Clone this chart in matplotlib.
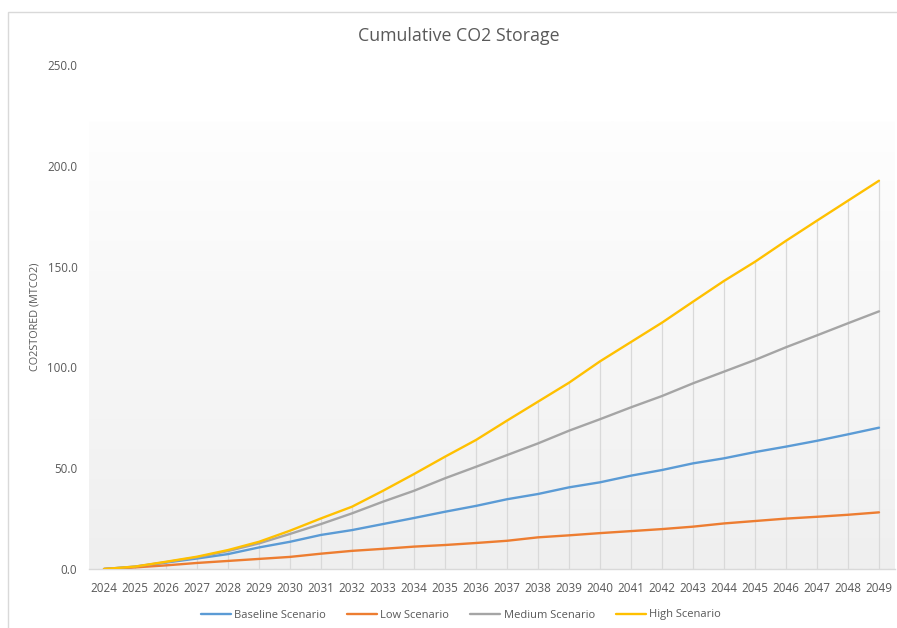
import numpy as np
import matplotlib
matplotlib.use("Agg")
import matplotlib.pyplot as plt
from matplotlib.patches import Rectangle

years = list(range(2024, 2050))
baseline = [0.0, 1.1, 3.2, 5.2, 7.4, 10.7, 13.5, 16.9, 19.3, 22.3, 25.3, 28.4, 31.3,
            34.6, 37.2, 40.5, 43.0, 46.3, 49.1, 52.4, 54.9, 58.0, 60.7, 63.6, 66.8, 70.1]
low = [0.0, 0.8, 1.8, 3.0, 4.0, 5.0, 6.0, 7.6, 9.0, 10.0, 11.1, 11.9, 12.9,
       14.0, 15.7, 16.7, 17.8, 18.8, 19.8, 21.0, 22.6, 23.8, 25.0, 25.9, 26.9, 28.1]
medium = [0.0, 1.2, 3.4, 5.8, 8.9, 12.7, 17.4, 22.3, 27.6, 33.4, 38.8, 45.0, 50.7,
          56.5, 62.3, 68.6, 74.3, 80.2, 85.8, 92.1, 97.9, 103.7, 110.0, 115.9, 121.9, 127.8]
high = [0.0, 1.2, 3.6, 6.1, 9.4, 13.5, 19.0, 25.1, 30.9, 38.8, 47.1, 55.7, 64.0,
        73.6, 83.0, 92.4, 103.0, 112.6, 122.2, 132.6, 142.9, 152.4, 162.8, 172.8, 182.7, 192.6]

series = [
    ("Baseline Scenario", baseline, "#5B9BD5"),
    ("Low Scenario", low, "#ED7D31"),
    ("Medium Scenario", medium, "#A5A5A5"),
    ("High Scenario", high, "#FFC000"),
]
y_ticks = [0, 50, 100, 150, 200, 250]

plt.rcParams["font.family"] = ["Open Sans", "DejaVu Sans"]
text_col = "#595959"

W, H = 897, 628
fig = plt.figure(figsize=(W / 100, H / 100), dpi=100)
fig.patch.set_facecolor("white")

# chart frame (runs off the right and bottom edges)
fig.add_artist(Rectangle((8 / W, -0.05), 1.2, (H - 12) / H + 0.05,
                         transform=fig.transFigure, fill=False,
                         edgecolor="#d9d9d9", linewidth=1.0))

ax = fig.add_axes([88.5 / W, (H - 569) / H, 806 / W, 504 / H])
ax.set_xlim(2023.5, 2049.5)
ax.set_ylim(0, 250)

# plot-area gradient (white at top to light grey at the base)
grad = np.linspace(0, 1, 256).reshape(-1, 1)
ax.imshow(grad, extent=[2023.5, 2049.5, 0, 222], aspect="auto", origin="upper",
          cmap=matplotlib.colors.LinearSegmentedColormap.from_list(
              "bg", ["#fefefe", "#efefef"]), zorder=0)
ax.set_facecolor("white")

# drop lines from the top series down to the axis
ax.vlines(years, 0, high, colors="#d9d9d9", linewidth=0.9, zorder=1)

for name, vals, col in series:
    ax.plot(years, vals, color=col, linewidth=1.7, label=name, zorder=3,
            solid_capstyle="round")

for s in ["top", "right", "left"]:
    ax.spines[s].set_visible(False)
ax.spines["bottom"].set_color("#d9d9d9")
ax.spines["bottom"].set_linewidth(1.0)

ax.set_xticks(years)
ax.set_xticklabels([str(y) for y in years])
ax.set_yticks(y_ticks)
ax.set_yticklabels([f"{v:.1f}" for v in y_ticks])
ax.tick_params(axis="both", length=0, labelsize=8.4, labelcolor=text_col)
ax.tick_params(axis="x", pad=9)
ax.tick_params(axis="y", pad=8)

ax.set_ylabel("CO2STORED (MTCO2)", fontsize=7.8, color=text_col, labelpad=5)

fig.text(459 / W, 1 - 36 / H, "Cumulative CO2 Storage", ha="center", va="center",
         fontsize=12.8, color=text_col)

leg = fig.legend(loc="center", bbox_to_anchor=(461 / W, 1 - 615 / H), ncol=4,
                 frameon=False, fontsize=8, handlelength=2.7, handletextpad=0.3,
                 columnspacing=1.9)
for t in leg.get_texts():
    t.set_color(text_col)

fig.savefig("out.png", dpi=100, facecolor="white")
